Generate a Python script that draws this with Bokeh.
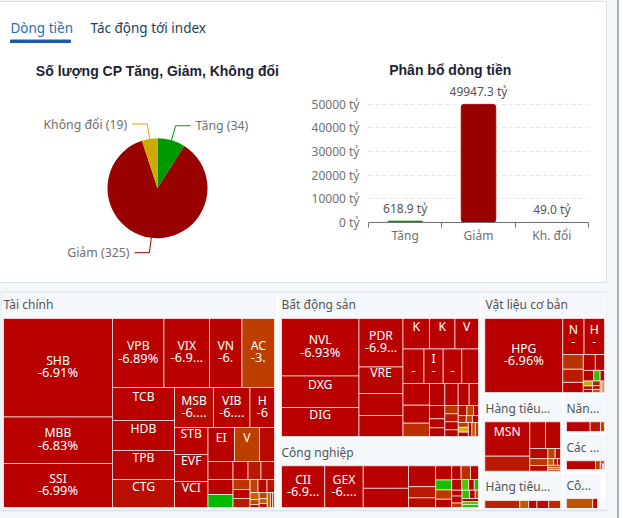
import numpy as np

from bokeh.core.properties import value
from bokeh.embed import file_html
from bokeh.layouts import column, row
from bokeh.models import FixedTicker, Label, PrintfTickFormatter, Range1d, Span
from bokeh.plotting import figure
from bokeh.resources import INLINE

# pie: number of stocks
pie_labels = ["Tăng", "Giảm", "Không đổi"]
pie_counts = [34, 325, 19]
pie_colors = ["#009900", "#990000", "#ccaa00"]

# bars: money flow
bar_labels = ["Tăng", "Giảm", "Kh. đổi"]
bar_values = [618.9, 49947.3, 49.0]
bar_ticks = [0, 10000, 20000, 30000, 40000, 50000]

# treemaps: values are cell sizes, strips = how many cells go in each squarify strip
tc_names = ["SHB", "MBB", "SSI", "VPB", "VIX", "VN", "AC", "TCB", "HDB", "TPB", "CTG", "MSB", "VIB", "H",
            "STB", "EVF", "VCI", "EI", "V"]
tc_pcts = ["-6.91%", "-6.83%", "-6.99%", "-6.89%", "-6.9...", "-6.", "-3.", "", "", "", "", "-6....", "-6....", "-6"]
tc_values = [10737, 5069, 4796, 3554, 3140, 2243, 2243, 2046, 1860, 1798, 1736, 1560, 1460, 980,
             905, 905, 871, 901, 850, 510, 450, 375, 325, 270, 234, 243, 170, 153, 153,
             104, 117, 98, 63, 45, 27, 48, 40, 32, 50, 30, 28]
tc_changes = [-6.91, -6.83, -6.99, -6.89, -6.9, -6.8, -3.4, -6.9, -6.9, -6.8, -6.1, -6.3, -6.8, -6.8,
              -6.9, -6.7, -6.9, -6.8, -3.4, -6.5, -6.8, -6.9, 6.9, -6.9, -5.5, -6.5,
              -3.9, -6.7, -5.4, -3.2, -6.6, -5.9, -2.0, -3.0, -6.5, -3.2, -2.2, -6.0, -1.6, -6.8, -3.0]
tc_strips = [3, 4, 4, 3, 3, 3, 3, 3, 3, 3, 3, 3, 3]

bds_names = ["NVL", "DXG", "DIG", "PDR", "VRE", "", "", "K", "K", "V", "", "I", ""]
bds_pcts = ["-6.93%", "", "", "-6.9...", "", "", "", "", "", "", "-", "-", "-"]
bds_values = [4456, 2441, 2248, 2134, 1166, 968, 924, 808, 778, 717, 724, 662, 642, 576,
              575, 477, 352, 337, 295, 242, 205, 203, 138, 133, 111, 107, 107, 90, 87, 66, 50,
              56, 42, 42, 49, 49, 44, 49, 49, 44]
bds_changes = [-6.93, -6.9, -6.9, -6.9, -6.8, -6.9, -6.9, -6.9, -6.9, -6.9, -6.9, -6.9, -6.9, -6.9,
               -6.9, -6.8, -4.2, -6.9, -6.9, -6.9, -6.6, -6.9, -6.9, -6.9, -3.8, -5.6, -6.9, -6.9,
               -6.2, -3.2, -6.6, -5.0, -3.0, -6.9, -3.4, 0.0, -6.9, -6.9, -2.6, -3.5]
bds_strips = [3, 4, 3, 4, 3, 4, 3, 4, 3, 3, 3, 3]

cn_names = ["CII", "GEX"]
cn_pcts = ["-6.9...", "-6...."]
cn_values = [1806, 1609, 1021, 868, 567, 305, 262, 229, 160, 150, 133, 129, 129, 110,
             107, 75, 60, 45, 61, 72, 46, 61, 48, 27, 52, 48, 48]
cn_changes = [-6.9, -6.8, -6.9, -6.9, -6.8, -5.6, -6.3, -6.9, 5.6, -3.6, -6.9, -6.9, -4.2, -6.9,
              -6.6, 3.2, -6.9, 5.8, -6.8, -6.9, -3.7, 4.4, -6.9, -3.0, -6.9, 3.0, 5.0]
cn_strips = [1, 1, 2, 3, 4, 3, 4, 3, 3, 3]

vl_names = ["HPG", "N", "H"]
vl_pcts = ["-6.96%", "-", "-"]
vl_values = [5728, 762, 731, 300, 268, 206, 190, 144, 110, 67, 46, 46, 30, 28, 37, 28, 24, 17, 16, 15]
vl_changes = [-6.96, -6.9, -6.9, -4.0, -5.4, -6.9, -6.8, -6.9, -6.9, 4.6, -6.7, 0.7, -6.8, -6.6,
              -5.0, -6.9, -2.5, -3.2, -2.0, -6.9]
vl_strips = [1, 2, 3, 2, 3, 3, 3, 3]

htd_names = ["MSN"]
htd_pcts = [""]
htd_values = [1514, 660, 412, 390, 179, 122, 100, 72, 52, 38, 26, 20, 30, 24, 18]
htd_changes = [-6.8, -5.6, -6.6, -6.8, -6.6, -3.7, -6.5, -3.2, -6.5, -2.2, -5.5, -6.2, -3.0, -2.4, -6.0]
htd_strips = [2, 2, 3, 2, 3, 3]

nl_values = [230, 100, 39]
nl_changes = [-6.9, -5.8, -3.2]
nl_strips = [1, 1, 1]

ks_values = [255, 41, 14, 12, 6, 5]
ks_changes = [-6.9, -4.0, -3.0, -2.6, -5.0, -3.4]
ks_strips = [1, 1, 1, 3]

hts_values = [798, 200, 96, 96, 90, 90, 48, 48, 70, 70, 40, 40, 20, 20]
hts_changes = [-5.0, -2.4, -6.4, -6.0, -6.6, -4.6, -6.8, -6.9, -6.5, -3.4, -6.9, -6.0, 2.8, -3.0]
hts_strips = [1, 1, 2, 2, 2, 2, 2, 2]

cong_values = [789, 48, 48, 45]
cong_changes = [-2.6, -6.8, -4.8, -6.6]
cong_strips = [1, 1, 1, 1]

PAGE_BG = "#f4f7fb"
BORDER = "#dcdfe6"
TEXT = "#707070"
FONT = "Noto Sans"
CHANGE_STOPS = [-7, -3.5, -1, 0, 2, 7]
CHANGE_RGB = np.array([[185, 0, 0], [188, 60, 0], [196, 124, 0], [204, 180, 0], [102, 200, 0], [0, 185, 0]])


def change_color(change):
    return "#%02x%02x%02x" % tuple(int(np.interp(change, CHANGE_STOPS, CHANGE_RGB[:, i])) for i in range(3))


def squarify(values, strips, x, y, w, h):
    # lay strips along the shorter side of what is left, like echarts does
    scale = w * h / sum(values)
    rects = []
    i = 0
    for n in strips:
        part = values[i:i + n]
        i += n
        other = sum(part) * scale / min(w, h)
        if w <= h:
            cx = x
            for v in part:
                cw = v * scale / other
                rects.append((cx, cx + cw, y, y + other))
                cx += cw
            y += other
            h -= other
        else:
            cy = y
            for v in part:
                ch = v * scale / other
                rects.append((x, x + other, cy, cy + ch))
                cy += ch
            x += other
            w -= other
    return rects


def base_figure(width, height, x_range, y_range, **kw):
    p = figure(width=width, height=height, x_range=x_range, y_range=y_range, output_backend="svg",
               toolbar_location=None, **kw)
    p.min_border = 0
    p.outline_line_color = None
    p.grid.visible = False
    # the card behind shows through, see main below
    p.background_fill_alpha = 0
    p.border_fill_alpha = 0
    return p


# tabs
tabs = base_figure(607, 50, Range1d(0, 607), Range1d(50, 0), x_axis_type=None, y_axis_type=None)
tabs.add_layout(Label(x=10, y=27, text="Dòng tiền", text_font=FONT, text_font_size="13.5px",
                      text_color="#2a6db5", text_baseline="middle"))
tabs.add_layout(Label(x=90, y=27, text="Tác động tới index", text_font=FONT, text_font_size="13.5px",
                      text_color="#24405c", text_baseline="middle"))
tabs.quad(left=10, right=70, top=39.5, bottom=42, color="#1f5bab")

# pie, origin on the pie centre
R = 50
pie = base_figure(305, 233, Range1d(-157, 148), Range1d(-95.3, 137.7), x_axis_type=None, y_axis_type=None)
fractions = np.array(pie_counts) / sum(pie_counts)
ends = np.pi / 2 - 2 * np.pi * np.cumsum(fractions)
starts = np.concatenate([[np.pi / 2], ends[:-1]])
pie.wedge(x=0, y=0, radius=R, start_angle=starts, end_angle=ends, direction="clock",
          fill_color=pie_colors, line_color=None)
mids = (starts + ends) / 2
for name, count, color, a in zip(pie_labels, pie_counts, pie_colors, mids):
    side = 1 if np.cos(a) > 0 else -1
    px = [R * np.cos(a), (R + 15) * np.cos(a), (R + 15) * np.cos(a) + side * 15]
    py = [R * np.sin(a), (R + 15) * np.sin(a), (R + 15) * np.sin(a)]
    pie.line(px, py, line_color=color, line_width=1)
    pie.text([px[2] + side * 5], [py[2]], text=[f"{name} ({count})"], text_font=value(FONT), text_font_size="12.3px",
             text_color=TEXT, text_baseline="middle", text_align="left" if side > 0 else "right")
pie.add_layout(Label(x=0, y=117, text="Số lượng CP Tăng, Giảm, Không đổi", text_font="Liberation Sans",
                     text_font_style="bold", text_font_size="14px", text_color="#1b2433",
                     text_align="center", text_baseline="middle"))

# bars
bar = base_figure(302, 233, Range1d(0, 3), Range1d(0, 72270))
bar.min_border_left = 63
bar.min_border_right = 19
bar.min_border_top = 1
bar.min_border_bottom = 61
bar_x = [i + 0.5 for i in range(len(bar_values))]
bar.vbar(x=bar_x, top=bar_values, width=0.473, fill_color=pie_colors, line_color=pie_colors, line_width=0.7,
         border_radius=3)
bar.text(bar_x, bar_values, text=[f"{v} tỷ" for v in bar_values], y_offset=-4, text_font=value(FONT),
         text_font_size="12px", text_color="#555555", text_align="center", text_baseline="bottom")
bar.xaxis.ticker = FixedTicker(ticks=bar_x, minor_ticks=list(range(len(bar_values) + 1)))
bar.xaxis.major_label_overrides = dict(zip(bar_x, bar_labels))
bar.xaxis.major_tick_line_color = None
bar.xaxis.major_tick_out = 0
bar.xaxis.minor_tick_out = 5
bar.xaxis.minor_tick_in = 0
bar.xaxis.minor_tick_line_color = "#6e7079"
bar.xaxis.axis_line_color = "#6e7079"
bar.xaxis.major_label_standoff = -1
bar.yaxis.ticker = FixedTicker(ticks=bar_ticks)
bar.yaxis.formatter = PrintfTickFormatter(format="%d tỷ")
bar.yaxis.axis_line_color = None
bar.yaxis.major_tick_line_color = None
bar.yaxis.major_tick_out = 0
bar.yaxis.minor_tick_line_color = None
bar.yaxis.major_label_standoff = 9
bar.axis.major_label_text_font = FONT
bar.axis.major_label_text_font_size = "12px"
bar.axis.major_label_text_color = TEXT
bar.ygrid.visible = True
bar.ygrid.ticker = FixedTicker(ticks=bar_ticks[1:])
bar.ygrid.grid_line_color = "#e0e6f1"
bar.ygrid.grid_line_dash = [4, 3]
bar.add_layout(Label(x=1.115, y=64350, text="Phân bổ dòng tiền", text_font="Liberation Sans",
                     text_font_style="bold", text_font_size="14px", text_color="#1b2433",
                     text_align="center", text_baseline="middle"))

# treemap sectors: names, pcts, values, changes, strips, cell box
sectors = [
    (tc_names, tc_pcts, tc_values, tc_changes, tc_strips, (3, 318, 271, 189)),
    (bds_names, bds_pcts, bds_values, bds_changes, bds_strips, (281, 318, 197, 118)),
    (cn_names, cn_pcts, cn_values, cn_changes, cn_strips, (281, 465.3, 197, 41.7)),
    (vl_names, vl_pcts, vl_values, vl_changes, vl_strips, (484.3, 318, 119.7, 74)),
    (htd_names, htd_pcts, htd_values, htd_changes, htd_strips, (484.3, 421.3, 75.7, 49.4)),
    ([], [], nl_values, nl_changes, nl_strips, (566, 421.3, 38, 9.7)),
    ([], [], ks_values, ks_changes, ks_strips, (566, 460.3, 38, 8.7)),
    ([], [], hts_values, hts_changes, hts_strips, (484.3, 500, 75.7, 26)),
    ([], [], cong_values, cong_changes, cong_strips, (566, 498, 31, 30)),
]
panel_titles = ["Tài chính", "Bất động sản", "Công nghiệp", "Vật liệu cơ bản", "Hàng tiêu...", "Năn...",
                "Các ...", "Hàng tiêu...", "Cô..."]
title_x = [3, 281, 281, 485, 485, 566, 566, 485, 566]
title_y = [304, 304, 452, 304, 408, 408, 447, 486, 485]

tree = base_figure(607, 235, Range1d(0, 607), Range1d(518, 283), x_axis_type=None, y_axis_type=None)
# white card behind the sector panels
tree.quad(left=0.5, right=606.5, top=291.5, bottom=510, fill_color="white", line_color=BORDER)
tree.quad(left=[1.5, 278, 278, 481, 481, 563, 563, 481, 563],
          right=[276.5, 479.5, 479.5, 605, 561.5, 605, 605, 561.5, 600],
          top=[292.5, 292.5, 438, 292.5, 394, 394, 434, 473, 473],
          bottom=[509, 436.5, 509, 392.5, 471.5, 432.5, 471.5, 509, 509],
          fill_color=PAGE_BG, line_color=None)

for names, pcts, values, changes, strips, box in sectors:
    rects = squarify(values, strips, *box)
    left, right, top, bottom = map(list, zip(*rects))
    tree.quad(left=left, right=right, top=top, bottom=bottom, fill_color=[change_color(c) for c in changes],
              line_color="#ffffff", line_alpha=0.65, line_width=1)
    cx = [(a + b) / 2 for a, b in zip(left, right)]
    cy = [(a + b) / 2 for a, b in zip(top, bottom)]
    n = len(names)
    tree.text(cx[:n], [c - 7.5 for c in cy[:n]], text=names, text_font=value(FONT), text_font_size="12.2px",
              text_color="white", text_align="center", text_baseline="middle")
    k = len(pcts)
    tree.text(cx[:k], [c + 4.5 for c in cy[:k]], text=pcts, text_font=value(FONT), text_font_size="12.8px",
              text_color="white", text_align="center", text_baseline="middle")

# cells below this line are cut off by the scrolling panel
tree.quad(left=481, right=605, top=507.5, bottom=509.5, fill_color=PAGE_BG, line_color=None)
tree.quad(left=0, right=607, top=510, bottom=518, fill_color=PAGE_BG, line_color=None)
tree.add_layout(Span(location=510, dimension="width", line_color=BORDER, line_width=1.5))
tree.text(title_x, title_y, text=panel_titles, text_font=value(FONT), text_font_size="12px", text_color="#555555",
          text_baseline="middle")


def band(x, y, w, h, color):
    return f"linear-gradient({color},{color}) {x}px {y}px/{w}px {h}px no-repeat"


# wrapped in their own columns so the row does not line up the two plot frames
card = ", ".join([band(0, 1, 607, 1, BORDER), band(606, 1, 1, 282, BORDER), band(0, 282, 607, 1, BORDER),
                  band(0, 1, 607, 282, "white")])
main = column(tabs, row(column(pie), column(bar)), tree, width=607, styles={"background": card})
root = row(main, width=623, height=518, styles={
    "position": "absolute", "left": "0", "top": "0",
    "background": f"linear-gradient(to right, {PAGE_BG} 617px, #a8b3c2 617px, #a8b3c2 619px, white 619px)"})

open("out.html", "w").write(file_html(root, INLINE))
